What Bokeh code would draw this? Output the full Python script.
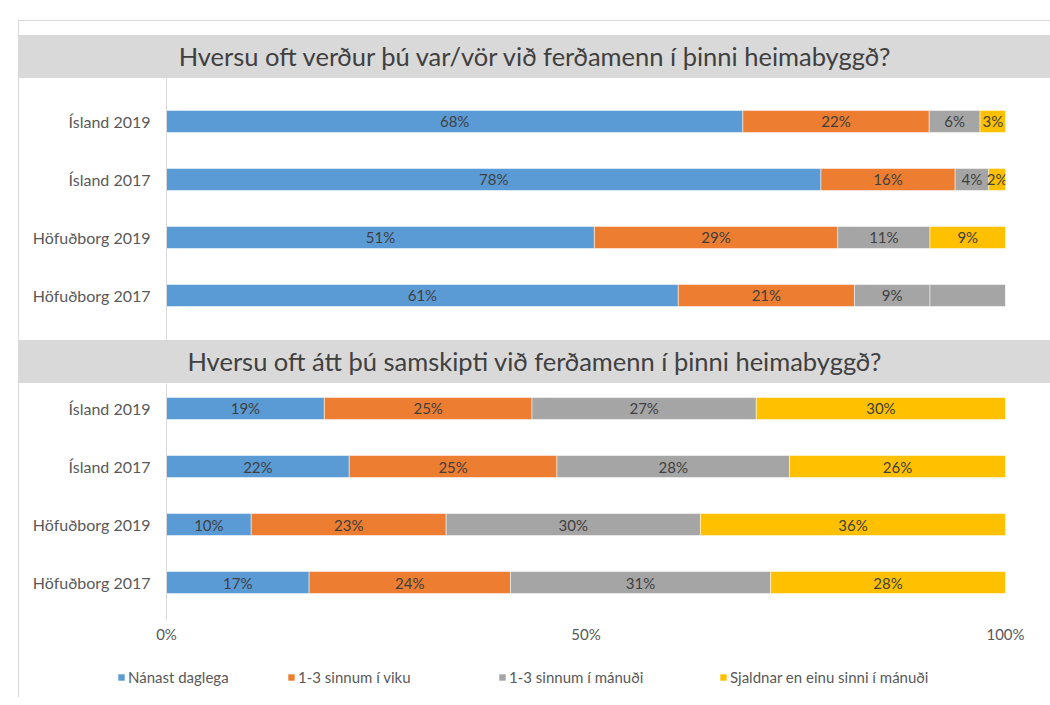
from bokeh.plotting import figure
from bokeh.models import ColumnDataSource, Range1d, FixedTicker, Div, Legend, LegendItem
from bokeh.layouts import column, row
from bokeh.embed import file_html
from bokeh.resources import INLINE
from bokeh.core.properties import value

# ---------------- data ----------------
categories = ["Höfuðborg 2017", "Höfuðborg 2019", "Ísland 2017", "Ísland 2019"]  # bottom -> top
series = ["Nánast daglega", "1-3 sinnum í viku", "1-3 sinnum í mánuði",
          "Sjaldnar en einu sinni í mánuði"]
colors = ["#5b9bd5", "#ed7d31", "#a5a5a5", "#ffc000"]

title_top = "Hversu oft verður þú var/vör við ferðamenn í þinni heimabyggð?"
top_daily = [61, 51, 78, 68]
top_weekly = [21, 29, 16, 22]
top_monthly = [9, 11, 4, 6]
top_rarely = [9, 9, 2, 3]
# in the original, the last segment of "Höfuðborg 2017" is drawn grey and unlabelled
top_override = {(0, 3): "#a5a5a5"}

title_bottom = "Hversu oft átt þú samskipti við ferðamenn í þinni heimabyggð?"
bot_daily = [17, 10, 22, 19]
bot_weekly = [24, 23, 25, 25]
bot_monthly = [31, 30, 28, 27]
bot_rarely = [28, 36, 26, 30]

x_ticks = [0, 50, 100]
x_tick_labels = ["0%", "50%", "100%"]

# ---------------- style ----------------
FONT = "Lato"
TXT = "#595959"
LBL = "#404040"
BAND = "#d9d9d9"
W = 1031
LEFT = 19          # page x where the inner column starts


def make_chart(vals, override, y_start, y_end, height, bottom_border, show_x):
    p = figure(width=W, height=height, x_range=Range1d(0, 100),
               y_range=Range1d(y_start, y_end), output_backend="svg",
               toolbar_location=None, min_border_left=147, min_border_right=45,
               min_border_top=0, min_border_bottom=bottom_border,
               x_axis_type="linear" if show_x else None, margin=0)
    p.outline_line_color = None
    p.grid.visible = False
    p.background_fill_color = "white"
    p.border_fill_color = "white"

    ys = list(range(len(categories)))
    totals = [sum(v[i] for v in vals) for i in ys]
    cum = [0.0] * len(ys)
    for s, vlist in enumerate(vals):
        left, right, mid, lab, col = [], [], [], [], []
        for i in ys:
            w = vlist[i] / totals[i] * 100
            left.append(cum[i])
            right.append(cum[i] + w)
            mid.append(cum[i] + w / 2)
            cum[i] += w
            if (i, s) in override:
                col.append(override[(i, s)])
                lab.append("")
            else:
                col.append(colors[s])
                lab.append(f"{vlist[i]}%")
        src = ColumnDataSource(dict(y=ys, left=left, right=right, mid=mid,
                                    label=lab, color=col))
        p.hbar(y="y", left="left", right="right", height=0.38, source=src,
               fill_color="color", line_color="white", line_width=0.5)
        p.text(x="mid", y="y", text="label", source=src, text_align="center",
               text_baseline="middle", text_font=value(FONT),
               text_font_size="15px", text_color=LBL)

    ax = p.yaxis[0]
    ax.ticker = FixedTicker(ticks=ys)
    ax.major_label_overrides = {i: c for i, c in zip(ys, categories)}
    ax.major_tick_line_color = None
    ax.minor_tick_line_color = None
    ax.major_tick_out = 0
    ax.major_tick_in = 0
    ax.axis_line_color = BAND
    ax.major_label_standoff = 16
    ax.major_label_text_font = FONT
    ax.major_label_text_font_size = "16px"
    ax.major_label_text_color = TXT

    if show_x:
        xa = p.xaxis[0]
        xa.ticker = FixedTicker(ticks=x_ticks)
        xa.major_label_overrides = {t: l for t, l in zip(x_ticks, x_tick_labels)}
        xa.axis_line_color = None
        xa.major_tick_line_color = None
        xa.minor_tick_line_color = None
        xa.major_tick_out = 0
        xa.major_tick_in = 0
        xa.major_label_standoff = 4
        xa.major_label_text_font = FONT
        xa.major_label_text_font_size = "15px"
        xa.major_label_text_color = TXT
    return p


p1 = make_chart([top_daily, top_weekly, top_monthly, top_rarely], top_override,
                -0.776, 3.741, 262, 0, False)
p2 = make_chart([bot_daily, bot_weekly, bot_monthly, bot_rarely], {},
                -0.655, 3.431, 267, 30, True)

# legend strip (its proxy bars sit outside the visible range)
p3 = figure(width=W, height=47, x_range=Range1d(0, 1), y_range=Range1d(0, 1),
            output_backend="svg", toolbar_location=None, x_axis_type=None,
            y_axis_type=None, min_border=0, margin=0)
p3.outline_line_color = None
p3.grid.visible = False
legend_x = [117, 287, 498, 719]
for s, name in enumerate(series):
    r = p3.hbar(y=[-5], left=[0], right=[1], height=0.5, fill_color=colors[s],
                line_color=None)
    lg = Legend(items=[LegendItem(label=name, renderers=[r])],
                location=(legend_x[s] - LEFT, 11), orientation="horizontal",
                glyph_width=8, glyph_height=8, label_standoff=3, padding=0,
                margin=0, border_line_color=None, background_fill_alpha=0,
                label_text_font=FONT, label_text_font_size="15px",
                label_text_color=TXT, label_height=16)
    p3.add_layout(lg, "center")


def band(text):
    return Div(text=text, width=W, height=43, margin=0,
               styles={"background-color": BAND, "font-family": FONT,
                       "font-size": "25.5px", "color": LBL, "text-align": "center",
                       "line-height": "43px", "width": f"{W}px"})


def block(w, h, color=None):
    st = {"background-color": color} if color else {}
    return Div(text="", width=w, height=h, margin=0, styles=st)


inner = column(block(W, 1, BAND), block(W, 14), band(title_top), p1,
               band(title_bottom), p2, margin=0)
page = column(block(1050, 20),
              row(block(18, 630), block(1, 630, BAND), inner, margin=0),
              row(block(18, 47), block(1, 47, BAND), p3, margin=0),
              margin=0)

open("out.html", "w").write(file_html(page, INLINE))
